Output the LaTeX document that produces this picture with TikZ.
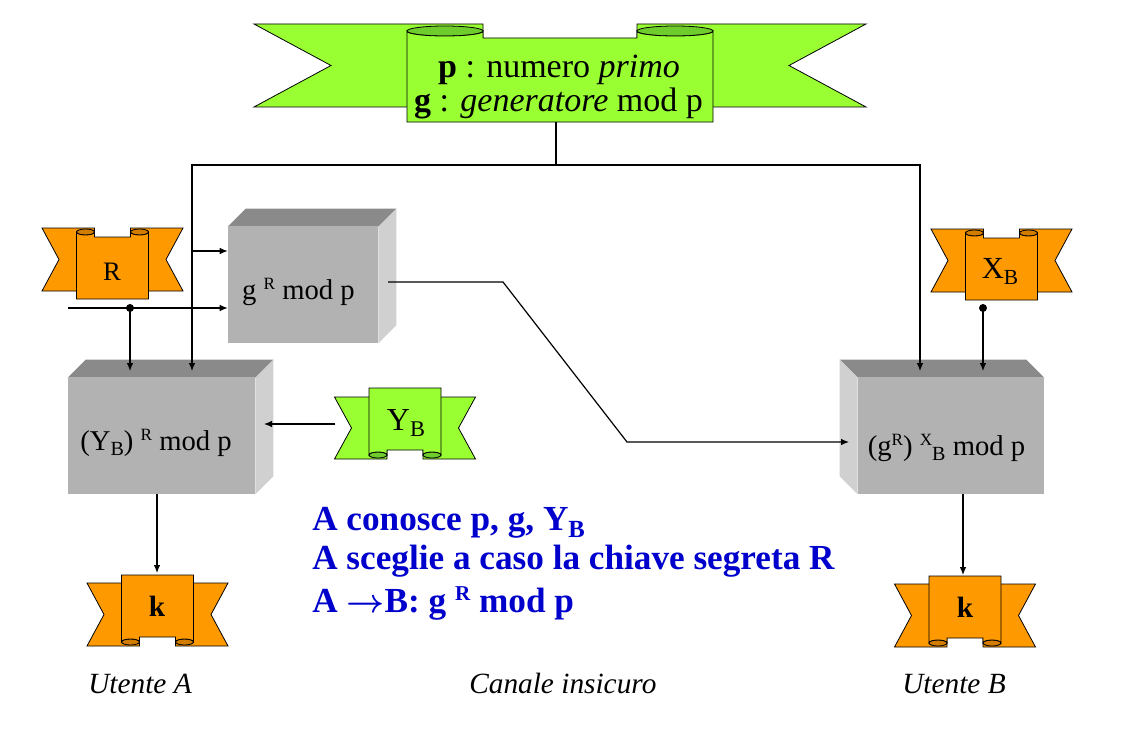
\documentclass[tikz,border=0pt]{standalone}
\usepackage{fontspec}
\usepackage{graphicx}
\usepackage{amsmath}
\setmainfont{Liberation Serif}
\usetikzlibrary{arrows.meta}
\definecolor{rgreen}{RGB}{153,255,51}
\definecolor{rgreend}{RGB}{110,205,45}
\definecolor{rorange}{RGB}{255,153,0}
\definecolor{rorangud}{RGB}{210,125,0}
\definecolor{boxfront}{RGB}{178,178,178}
\definecolor{boxtop}{RGB}{138,138,138}
\definecolor{boxside}{RGB}{208,208,208}
\definecolor{txtblue}{RGB}{0,0,204}
\newcommand\upidx[1]{\raisebox{0.32em}{\scalebox{0.6}{#1}}}
\newcommand\dnidx[1]{\raisebox{-0.2em}{\scalebox{0.7}{#1}}}
\newcommand\fsz[1]{\fontsize{#1}{#1}\selectfont}
\newcommand\smallrib{\def\rW{70.5}\def\rN{17}\def\rH{63}\def\rP{36}\def\rC{18}\def\rct{1}\def\re{3}\def\rpt{9}\def\rpb{71}}
\newcommand\bigrib{\def\rW{306}\def\rN{77}\def\rH{83}\def\rP{153}\def\rC{76}\def\rct{2}\def\re{5}\def\rpt{14}\def\rpb{98}}
\newcommand\ribbonshape[2]{%
  \filldraw[fill=#1,ribline] (-\rW,0) -- ({-\rP+\rC},0) -- ({-\rP+\rC},\rH) -- (-\rW,\rH) -- ({-\rW+\rN},{\rH/2}) -- cycle;
  \filldraw[fill=#1,ribline] (\rW,0) -- ({\rP-\rC},0) -- ({\rP-\rC},\rH) -- (\rW,\rH) -- ({\rW-\rN},{\rH/2}) -- cycle;
  \filldraw[fill=#2,ribline] ({-\rP+\rC/2},{\rct+\re}) ellipse[x radius={\rC/2}, y radius=\re];
  \filldraw[fill=#2,ribline] ({\rP-\rC/2},{\rct+\re}) ellipse[x radius={\rC/2}, y radius=\re];
  \filldraw[fill=#1,ribline] (-\rP,{\rct+\re}) .. controls (-\rP,{\rct+\re*7/3}) and ({-\rP+\rC},{\rct+\re*7/3}) .. ({-\rP+\rC},{\rct+\re}) -- ({-\rP+\rC},\rpt) -- ({\rP-\rC},\rpt) -- ({\rP-\rC},{\rct+\re}) .. controls ({\rP-\rC},{\rct+\re*7/3}) and (\rP,{\rct+\re*7/3}) .. (\rP,{\rct+\re}) -- (\rP,\rpb) -- (-\rP,\rpb) -- cycle;
}
\tikzset{
  ribline/.style={draw=black, line width=0.6pt},
  conn/.style={draw=black, line width=0.9pt},
  arr/.style={conn, -{Latex[length=6pt,width=5pt]}},
  frontface/.style={fill=boxfront, draw=none, inner sep=0pt, minimum height=87pt},
  topface/.style={fill=boxtop},
  sideface/.style={fill=boxside},
  boxlabel/.style={font=\fsz{21.5}, inner sep=0pt, anchor=base},
  ribtext/.style={inner sep=0pt, anchor=base},
  bluetext/.style={font=\fsz{26.4}\bfseries, text=txtblue, inner sep=0pt, anchor=base west},
  caption/.style={font=\fsz{22}\itshape, inner sep=0pt, anchor=base west},
}
\begin{document}
\begin{tikzpicture}[x=0.75pt, y=-0.75pt]
\useasboundingbox (0,0) rectangle (1121,735);
% ---------- ribbons ----------
\begin{scope}[shift={(560,24)}]\bigrib\ribbonshape{rgreen}{rgreend}\end{scope}
\begin{scope}[shift={(112.5,228)}]\smallrib\ribbonshape{rorange}{rorangud}\end{scope}
\begin{scope}[shift={(1001.5,229)}]\smallrib\ribbonshape{rorange}{rorangud}\end{scope}
\begin{scope}[shift={(405,459)}, yscale=-1]\smallrib\def\rH{62}\ribbonshape{rgreen}{rgreend}\end{scope}
\begin{scope}[shift={(157.5,646)}, yscale=-1]\smallrib\ribbonshape{rorange}{rorangud}\end{scope}
\begin{scope}[shift={(965,647)}, yscale=-1]\smallrib\ribbonshape{rorange}{rorangud}\end{scope}
% ribbon texts
\node[ribtext, font=\fsz{25.5}] (pline) at (559,78) {\textbf{p} : numero \textit{primo}};
\node[ribtext, font=\fsz{25.5}] (gline) at (558.5,112) {\textbf{g} : \textit{generatore} mod p};
\node[ribtext, font=\fsz{20}] (Rt) at (112,280) {R};
\node[ribtext, font=\fsz{23}] (XBt) at (1000,278) {X\dnidx{B}};
\node[ribtext, font=\fsz{24}] (YBt) at (406,430) {Y\dnidx{B}};
\node[ribtext, font=\fsz{22}\bfseries] (kA) at (157,616) {k};
\node[ribtext, font=\fsz{22}\bfseries] (kB) at (965,617) {k};
% ---------- boxes ----------
\node[frontface, minimum width=112.5pt] (gR) at (303,285) {};
\fill[topface] (gR.north west) -- ++(18,-18) -- ([shift={(18,-18)}]gR.north east) -- (gR.north east) -- cycle;
\fill[sideface] (gR.north east) -- ++(18,-18) -- ([shift={(18,-18)}]gR.south east) -- (gR.south east) -- cycle;
\node[boxlabel] (gRt) at (298.5,299) {g \upidx{R} mod p};

\node[frontface, minimum width=140.25pt] (YR) at (161.5,436) {};
\fill[topface] (YR.north west) -- ++(18,-18) -- ([shift={(18,-18)}]YR.north east) -- (YR.north east) -- cycle;
\fill[sideface] (YR.north east) -- ++(18,-18) -- ([shift={(18,-18)}]YR.south east) -- (YR.south east) -- cycle;
\node[boxlabel] (YRt) at (156,450) {(Y\dnidx{B}) \upidx{R} mod p};

\node[frontface, minimum width=139.5pt] (BB) at (951,436) {};
\fill[topface] (BB.north west) -- ++(-18,-18) -- ([shift={(-18,-18)}]BB.north east) -- (BB.north east) -- cycle;
\fill[sideface] (BB.north west) -- ++(-18,-18) -- ([shift={(-18,-18)}]BB.south west) -- (BB.south west) -- cycle;
\node[boxlabel] (BBt) at (946.5,455) {(g\upidx{R}) \upidx{X}\dnidx{B} mod p};
% ---------- connectors ----------
\coordinate (topdrop) at (556,122);
\coordinate (jT) at (556,165);
\coordinate (jL) at (192,165);
\coordinate (jR) at (920,165);
\coordinate (aL) at (192,371);
\coordinate (aR) at (920,371);
\coordinate (jG) at (192,251);
\coordinate (rin) at (68,308);
\coordinate (dotA) at (130,308);
\coordinate (aA) at (130,371);
\coordinate (gout) at (388,282);
\coordinate (bend1) at (503,282);
\coordinate (bend2) at (627,442);
\coordinate (bin) at (849,442);
\coordinate (ybout) at (335,424);
\coordinate (yrin) at (264,424);
\coordinate (dotB) at (983,308);
\coordinate (aB) at (983,371);
\coordinate (yrout) at (157,494);
\coordinate (kAin) at (157,573);
\coordinate (bout) at (963,494);
\coordinate (kBin) at (963,575);

\draw[conn] (topdrop) -- (jT);
\draw[arr] (jT) -- (jL) -- (aL);
\draw[arr] (jT) -- (jR) -- (aR);
\draw[arr] (jG) -- (jG -| gR.west);
\draw[arr] (rin) -- (rin -| gR.west);
\draw[arr] (dotA) -- (aA);
\fill (dotA) circle[radius=4];
\draw[arr] (gout) -- (bend1) -- (bend2) -- (bin);
\draw[arr] (ybout) -- (yrin);
\draw[arr] (yrout) -- (kAin);
\draw[arr] (dotB) -- (aB);
\fill (dotB) circle[radius=4];
\draw[arr] (bout) -- (kBin);
% ---------- texts ----------
\node[bluetext] (t1) at (312,530) {A conosce p, g, Y\dnidx{B}};
\node[bluetext] (t2) at (312,569) {A sceglie a caso la chiave segreta R};
\node[bluetext] (t3) at (312,612) {A $\boldsymbol{\rightarrow}$B: g \upidx{R} mod p};
\node[caption] (uA) at (88,693) {Utente A};
\node[caption] (ch) at (469,693) {Canale insicuro};
\node[caption] (uB) at (902,693) {Utente B};
\end{tikzpicture}
\end{document}
